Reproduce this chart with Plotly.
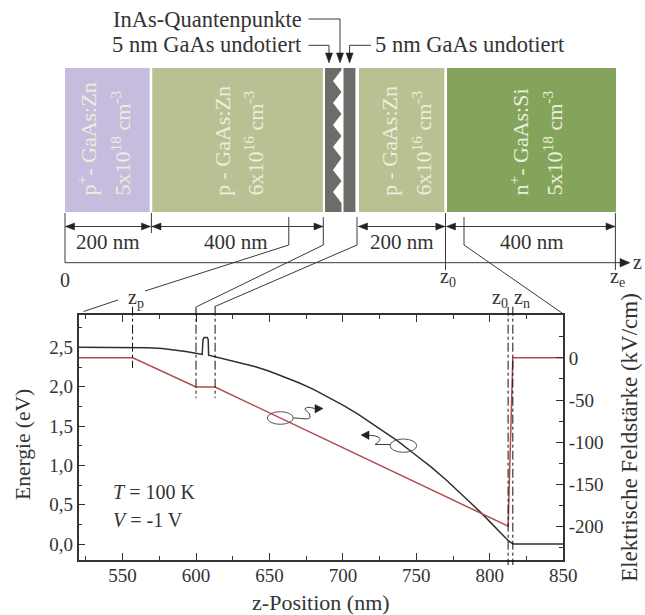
import plotly.graph_objects as go

W, H = 645, 615
FONT = "Liberation Serif"
INK = "#333333"

# ---- chart data ----
z_energy = [520, 557, 567, 577, 587, 593, 600, 604.2, 604.8, 605.5, 607.6, 608.3, 608.6, 613, 620, 630, 640, 650, 660, 670, 680,
            691, 700, 710, 720, 737, 750, 760, 770, 780, 790, 795, 805, 813, 816, 850]
energy = [2.50, 2.50, 2.496, 2.484, 2.464, 2.448, 2.426, 2.41, 2.60, 2.625, 2.625, 2.60, 2.40, 2.38, 2.355, 2.31, 2.257, 2.195, 2.125, 2.05, 1.965,
          1.86, 1.765, 1.655, 1.53, 1.315, 1.125, 0.98, 0.82, 0.65, 0.47, 0.38, 0.19, 0.035, 0.0, 0.0]
z_field = [520, 557, 600, 613, 812.5, 815.7, 850]
field = [0, 0, -34.6, -34.6, -199.5, 0, 0]

x_ticks = [550, 600, 650, 700, 750, 800, 850]
e_ticks = [0, 0.5, 1.0, 1.5, 2.0, 2.5]
e_labels = ["0,0", "0,5", "1,0", "1,5", "2,0", "2,5"]
f_ticks = [0, -50, -100, -150, -200]
f_labels = ["0", "-50", "-100", "-150", "-200"]
z_markers = [556.8, 600, 613, 812.5, 815.7]
layer_labels = [
    ("p<sup>+</sup>- GaAs:Zn", "5x10<sup>18</sup> cm<sup>-3</sup>"),
    ("p - GaAs:Zn", "6x10<sup>16</sup> cm<sup>-3</sup>"),
    ("p - GaAs:Zn", "6x10<sup>16</sup> cm<sup>-3</sup>"),
    ("n<sup>+</sup>- GaAs:Si", "5x10<sup>18</sup> cm<sup>-3</sup>"),
]
thickness_labels = ["200 nm", "400 nm", "200 nm", "400 nm"]

# ---- helpers: page pixels to paper fractions ----
def xp(x): return x / W
def yp(y): return 1 - y / H

shapes, ann = [], []

def rect(x0, y0, x1, y1, color):
    shapes.append(dict(type="rect", xref="paper", yref="paper", x0=xp(x0), x1=xp(x1), y0=yp(y0), y1=yp(y1),
                       fillcolor=color, line_width=0, layer="below"))

def seg(x0, y0, x1, y1, w=1.0, color="#3a3a3a", dash=None):
    shapes.append(dict(type="line", xref="paper", yref="paper", x0=xp(x0), x1=xp(x1), y0=yp(y0), y1=yp(y1),
                       line=dict(color=color, width=w, dash=dash or "solid")))

def path(cmds, fill=None, w=1.0, color="#3a3a3a"):
    out = []
    for c in cmds:
        if c[0] == "Z":
            out.append("Z")
        else:
            pts = c[1:]
            out.append(c[0] + " " + " ".join(f"{xp(pts[i]):.5f},{yp(pts[i+1]):.5f}" for i in range(0, len(pts), 2)))
    shapes.append(dict(type="path", xref="paper", yref="paper", path=" ".join(out),
                       fillcolor=fill or "rgba(0,0,0,0)", line=dict(color=color, width=w)))

def tri(pts, color="#222222"):
    cmds = [("M", *pts[0])] + [("L", *p) for p in pts[1:]] + [("Z",)]
    path(cmds, fill=color, w=0.5, color=color)

def text(x, y, s, size=20, color=INK, angle=0, xa="center", ya="middle"):
    ann.append(dict(x=xp(x), y=yp(y), xref="paper", yref="paper", text=s, showarrow=False, textangle=angle,
                    xanchor=xa, yanchor=ya, font=dict(family=FONT, size=size, color=color)))

# ---- layer stack ----
PURPLE, SAGE, GREEN, DARK = "#c6bcdd", "#b9c192", "#84a45b", "#6c6d69"
TOP, BOT = 68, 212
rect(65, TOP, 149.7, BOT, PURPLE)
rect(152.2, TOP, 322.9, BOT, SAGE)
rect(343.5, TOP, 355.4, BOT, DARK)
rect(359, TOP, 444.3, BOT, SAGE)
rect(447, TOP, 616, BOT, GREEN)

peaks = [70, 92, 114, 136, 158, 181, 203]
notches = [81, 103, 125, 147, 170, 192]
cmds = [("M", 325, TOP), ("L", 341.5, TOP), ("L", 341.5, peaks[0])]
for i, n in enumerate(notches):
    cmds.append(("L", 333, n))
    cmds.append(("L", 341.5, peaks[i + 1]))
cmds += [("L", 341.5, BOT), ("L", 325, BOT), ("Z",)]
path(cmds, fill=DARK, w=0, color=DARK)

PALE = "#eceedb"
cols = [(86, 120), (222, 253), (389, 421), (518, 552)]
for (xa_, xb_), (l1, l2) in zip(cols, layer_labels):
    text(xa_, 198, l1, 22, PALE, -90, ya="bottom")
    text(xb_, 198, l2, 22, PALE, -90, ya="bottom")

# ---- callouts above the stack ----
text(304, 20, "InAs-Quantenpunkte", 22.5, xa="right")
text(304, 45, "5 nm GaAs undotiert", 22.5, xa="right")
text(373, 45, "5 nm GaAs undotiert", 22.5, xa="left")
seg(308.5, 19, 340, 19); seg(340, 19, 340, 55)
seg(308.5, 45.3, 329, 45.3); seg(329, 45.3, 329, 55)
seg(371, 45.3, 349.6, 45.3); seg(349.6, 45.3, 349.6, 55)
for ax in (329, 340, 349.6):
    tri([(ax - 3.5, 53), (ax + 3.5, 53), (ax, 63)])

# ---- thickness dimensions ----
DY = 226.5
def dim(x0, x1):
    seg(x0, DY, x1, DY)
    tri([(x0 + 9, DY - 3.5), (x0 + 9, DY + 3.5), (x0, DY)])
    tri([(x1 - 9, DY - 3.5), (x1 - 9, DY + 3.5), (x1, DY)])
dim(65.5, 150.5); dim(152, 323); dim(358.5, 444.8); dim(446.5, 615)
for cx, s in zip((107.8, 236.5, 401.5, 532), thickness_labels):
    text(cx, 241.5, s, 21)
seg(65, 213, 65, 262.7); seg(151.4, 213, 151.4, 233)
seg(445.5, 213, 445.5, 270); seg(615.4, 213, 615.4, 270)
for vx in (288.8, 323.3, 357, 464):
    seg(vx, 217, vx, 245)

# ---- z axis ----
seg(65, 262.7, 622, 262.7)
tri([(620, 258.5), (620, 267), (630, 262.7)])
text(644, 262, "z", 20, xa="right")
text(64.5, 280, "0", 20)
text(448, 277, "z<sub>0</sub>", 20)
text(617, 277, "z<sub>e</sub>", 20)
text(136, 298, "z<sub>p</sub>", 20)
text(500, 298, "z<sub>0</sub>", 20)
text(522, 298, "z<sub>n</sub>", 20)

# ---- leaders to the lower plot ----
seg(288.8, 245, 145, 291); seg(118, 300, 83.5, 311.5)
seg(323.3, 245, 196.7, 306.7); seg(357, 245, 214.5, 306.7)
seg(464, 245, 562.7, 313.5)

# ---- position markers in data space ----
marker_ends = [(306.7, 368), (306.7, 398), (306.7, 398), (306.7, 565), (306.7, 565)]
for zv, (y0, y1) in zip(z_markers, marker_ends):
    shapes.append(dict(type="line", xref="x", yref="paper", x0=zv, x1=zv, y0=yp(y0), y1=yp(y1),
                       line=dict(color="#111111", width=1, dash="dashdot")))

# ---- ellipses and wiggles ----
for x0, x1, y0, y1 in ((267.3, 293.3, 411.7, 424.3), (390, 416.7, 439, 452.3)):
    shapes.append(dict(type="circle", xref="paper", yref="paper", x0=xp(x0), x1=xp(x1), y0=yp(y1), y1=yp(y0),
                       line=dict(color="#555555", width=1), fillcolor="rgba(0,0,0,0)"))
path([("M", 293.3, 418), ("C", 302, 418, 311, 421, 310, 416), ("C", 309, 410, 302, 410, 306, 408), ("C", 310, 406, 314, 409, 316, 408.5)])
tri([(315, 404.5), (315, 413), (323, 408.5)])
path([("M", 390, 444.5), ("L", 375, 444.5), ("C", 379, 442, 382, 439, 378, 437), ("C", 374, 435, 372, 436, 368, 435)])
tri([(369, 431), (369, 439.5), (361, 435)])

text(111, 492, "<i>T</i> = 100 K", 20, xa="left")
text(111, 520, "<i>V</i> = -1 V", 20, xa="left")
text(23, 445, "Energie (eV)", 21.5, angle=-90)

# ---- figure ----
fig = go.Figure()
fig.add_trace(go.Scatter(x=z_energy, y=energy, mode="lines", name="Energie",
                         line=dict(color="#2f2f2f", width=1.5), yaxis="y", showlegend=False))
fig.add_trace(go.Scatter(x=z_field, y=field, mode="lines", name="Feldstärke",
                         line=dict(color="#b24a50", width=1.5), yaxis="y2", showlegend=False))

axis_font = dict(family=FONT, size=19, color=INK)
common = dict(showline=True, linecolor=INK, linewidth=1.5, showgrid=False, zeroline=False, automargin=False,
              ticks="inside", ticklen=7, tickcolor=INK, tickwidth=1.2, tickfont=axis_font)

fig.update_layout(
    width=W, height=H, autosize=False, margin=dict(l=0, r=0, t=0, b=0, autoexpand=False),
    paper_bgcolor="white", plot_bgcolor="white", showlegend=False,
    shapes=shapes, annotations=ann,
    xaxis=dict(domain=[xp(78.5), xp(563.2)], range=[520, 850], tickmode="array", tickvals=x_ticks,
               mirror="ticks", ticklabelstandoff=-3,
               title=dict(text="z-Position (nm)", standoff=14, font=dict(family=FONT, size=22, color=INK)),
               minor=dict(ticks="inside", dtick=25, tick0=525, ticklen=4, tickcolor=INK, tickwidth=1.2), **common),
    yaxis=dict(domain=[yp(560), yp(315)], range=[-0.2034, 2.911], tickmode="array", tickvals=e_ticks, ticktext=e_labels,
               minor=dict(ticks="inside", dtick=0.25, tick0=0, ticklen=4, tickcolor=INK, tickwidth=1.2), **common),
    yaxis2=dict(domain=[yp(560), yp(315)], range=[-239.6, 50.8], overlaying="y", side="right", anchor="x",
                tickmode="array", tickvals=f_ticks, ticktext=f_labels,
                title=dict(text="Elektrische Feldstärke (kV/cm)", standoff=18, font=dict(family=FONT, size=23, color=INK)),
                minor=dict(ticks="inside", dtick=25, tick0=0, ticklen=4, tickcolor=INK, tickwidth=1.2), **common),
)
fig.write_html("out.html", config=dict(displayModeBar=False, responsive=False),
               post_script="document.documentElement.style.overflow='hidden';document.body.style.margin='0';document.body.style.overflow='hidden';")
